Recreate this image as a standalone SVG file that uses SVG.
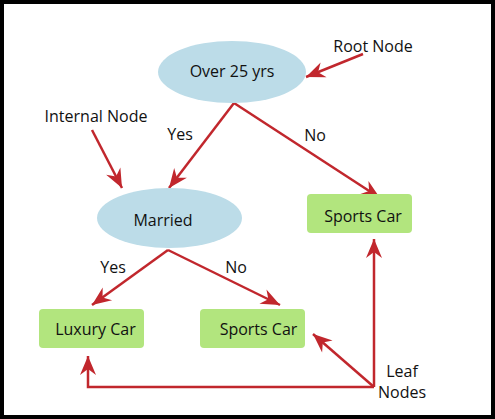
<svg xmlns="http://www.w3.org/2000/svg" width="495" height="419" viewBox="0 0 495 419">
<style>
.t{font-family:"Open Sans","Liberation Sans",sans-serif;font-size:16px;fill:#111;}
.ell{fill:#bcdce8;}
.box{fill:#b2e57e;}
.ln{stroke:#c1272d;stroke-width:2.5;fill:none;}
</style>
<defs>
<marker id="ah" viewBox="-20 -10 22 20" refX="0" refY="0" markerWidth="22" markerHeight="20" markerUnits="userSpaceOnUse" orient="auto">
<path d="M-19,-8 L0,0 L-19,8 L-13,0 Z" fill="#c1272d"/>
</marker>
</defs>
<rect x="0" y="0" width="495" height="419" fill="#000"/>
<rect x="4" y="4" width="487" height="411" fill="#fff"/>
<g id="connectors">
<polyline class="ln" points="234,103 169,188" marker-end="url(#ah)"/>
<polyline class="ln" points="234,103 380,198" marker-end="url(#ah)"/>
<polyline class="ln" points="168,250 92,305" marker-end="url(#ah)"/>
<polyline class="ln" points="168,250 280,305" marker-end="url(#ah)"/>
<polyline class="ln" points="363,54 306,77" marker-end="url(#ah)"/>
<polyline class="ln" points="92,130 122,188" marker-end="url(#ah)"/>
<polyline class="ln" points="374,387 374,239" marker-end="url(#ah)"/>
<polyline class="ln" points="374,387 313,334" marker-end="url(#ah)"/>
<polyline class="ln" points="374,387 88,387 88,356" marker-end="url(#ah)"/>
<text class="t" x="180" y="140" text-anchor="middle">Yes</text>
<text class="t" x="315" y="141" text-anchor="middle">No</text>
<text class="t" x="113" y="273" text-anchor="middle">Yes</text>
<text class="t" x="236" y="273" text-anchor="middle">No</text>
</g>
<g id="root">
<ellipse class="ell" cx="232" cy="72" rx="74" ry="31"/>
<text class="t" x="232" y="77" text-anchor="middle">Over 25 yrs</text>
</g>
<g id="married">
<ellipse class="ell" cx="169.5" cy="218" rx="72.5" ry="30"/>
<text class="t" x="163" y="226" text-anchor="middle">Married</text>
</g>
<g id="sports1">
<rect class="box" x="307" y="194" width="105" height="39" rx="4"/>
<text class="t" x="363" y="222" text-anchor="middle">Sports Car</text>
</g>
<g id="luxury">
<rect class="box" x="39" y="309" width="105" height="39" rx="4"/>
<text class="t" x="95.5" y="335" text-anchor="middle">Luxury Car</text>
</g>
<g id="sports2">
<rect class="box" x="200" y="309" width="105" height="39" rx="4"/>
<text class="t" x="258.5" y="335" text-anchor="middle">Sports Car</text>
</g>
<g id="labels">
<text class="t" x="373" y="52" text-anchor="middle">Root Node</text>
<text class="t" x="96" y="122" text-anchor="middle">Internal Node</text>
<text class="t" x="402" y="377" text-anchor="middle">Leaf</text>
<text class="t" x="402" y="398" text-anchor="middle">Nodes</text>
</g>
</svg>
